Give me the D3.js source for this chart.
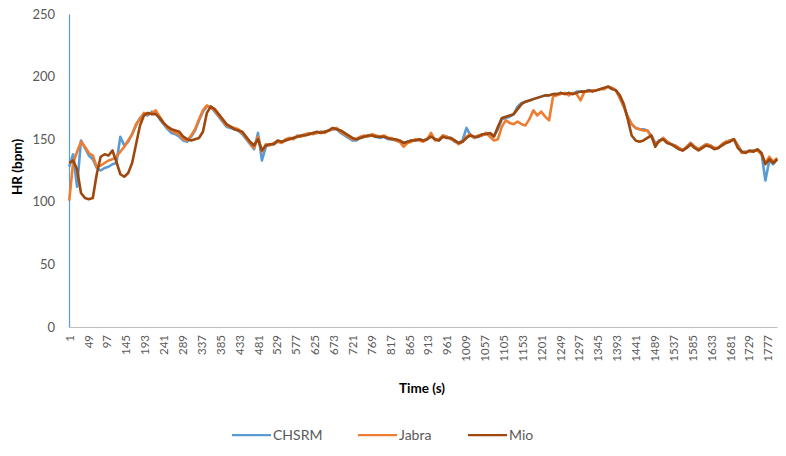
<!DOCTYPE html>
<html><head><meta charset="utf-8">
<script src="https://cdn.jsdelivr.net/npm/d3@7"></script>
<style>body{margin:0;background:#fff}svg{display:block}</style>
</head><body>
<svg id="chart" width="786" height="456"></svg>
<script>
// sampled every 10 s, starting at t = 1 s
const sampleStep = 10;
const chsrm = [
128,138,112,149,143,137,134,127,125,127,
128,130,131,152,145,148,154,161,167,170,
169,172,171,166,162,158,155,154,152,149,
148,152,157,165,172,176,176,172,168,164,
160,159,158,157,154,150,146,142,155,133,
144,146,146,148,148,149,151,151,152,153,
154,154,155,155,156,156,157,158,158,155,
153,151,149,149,151,152,153,153,152,151,
152,150,150,149,148,147,148,149,149,150,
149,150,153,150,149,153,152,151,148,147,
149,159,153,151,152,153,155,154,153,158,
166,167,168,170,176,179,180,181,182,183,
184,185,185,186,186,187,186,187,186,188,
188,188,189,189,189,190,191,192,191,189,
183,176,168,162,159,158,158,157,153,147,
148,151,148,146,145,143,141,144,147,144,
142,144,146,145,143,143,146,148,149,150,
145,140,140,140,141,141,139,117,133,130,134];
const jabra = [
101,131,140,148,144,139,137,128,129,131,
133,134,136,140,144,149,154,162,166,171,
170,171,173,168,163,159,157,155,154,150,
149,153,158,166,173,177,175,173,169,165,
161,160,159,158,155,151,147,143,152,140,
146,145,147,148,147,150,151,150,153,152,
154,155,154,155,156,155,157,158,159,156,
154,152,150,150,152,153,152,154,153,152,
153,151,151,149,148,144,147,148,150,149,
148,150,155,149,150,153,152,150,149,146,
148,152,154,151,153,153,155,152,149,150,
160,165,163,162,164,162,161,166,173,169,
172,168,165,184,185,186,187,185,187,186,
181,188,188,189,189,190,190,192,191,189,
183,176,168,162,159,158,157,157,152,146,
148,151,148,146,145,143,141,144,147,144,
142,144,146,145,143,143,146,148,149,150,
145,139,140,140,141,141,138,131,136,132,135];
const mio = [
131,133,126,107,103,102,103,122,136,138,
137,141,132,122,120,123,131,146,161,169,
171,170,170,167,163,160,158,157,156,152,
150,149,150,151,156,171,176,174,170,166,
162,160,158,157,156,152,148,145,150,141,
145,146,146,149,148,149,150,151,152,153,
153,154,155,156,155,156,157,159,158,157,
155,153,151,150,151,152,153,153,152,152,
152,151,150,150,149,147,148,149,149,150,
149,150,152,150,149,152,151,151,149,147,
148,151,153,152,152,154,154,155,152,160,
167,168,169,170,174,178,180,181,182,183,
184,185,185,186,186,187,186,187,186,187,
188,188,189,188,189,190,191,192,190,189,
185,178,166,153,149,148,149,151,153,144,
149,150,147,146,144,142,141,143,146,143,
141,143,145,144,142,143,145,147,148,150,
143,140,139,141,140,142,139,130,134,131,134];
const seriesNames = ["CHSRM", "Jabra", "Mio"];
const seriesColors = ["#5b9bd5", "#ed7d31", "#9e480e"];
const xTickLabels = [1,49,97,145,193,241,289,337,385,433,481,529,577,625,673,721,769,817,865,913,961,1009,1057,1105,1153,1201,1249,1297,1345,1393,1441,1489,1537,1585,1633,1681,1729,1777];
const yTicks = [0,50,100,150,200,250];

const svg = d3.select("#chart");
const font = "Lato, 'Open Sans', sans-serif";
const x = d3.scaleLinear().domain([0.5, 1800.5]).range([69, 777]);
const y = d3.scaleLinear().domain([0, 250]).range([327, 14]);

const series = [chsrm, jabra, mio].map((vals, k) => ({
  name: seriesNames[k], color: seriesColors[k],
  points: vals.map((v, i) => ({t: 1 + i * sampleStep, v}))
}));

// y axis
const yAxis = svg.append("g").attr("transform", "translate(69,0)")
  .call(d3.axisLeft(y).tickValues(yTicks).tickSize(0).tickPadding(14));
yAxis.select(".domain").attr("stroke", "#5b9bd5").attr("stroke-width", 1.2);
yAxis.selectAll("text").attr("font-family", font).attr("font-size", 13).attr("fill", "#595959");

// x axis
const xAxis = svg.append("g").attr("transform", "translate(0,327)")
  .call(d3.axisBottom(x).tickValues(xTickLabels).tickSize(0).tickFormat(d3.format("d")));
xAxis.select(".domain").attr("stroke", "#bfbfbf").attr("stroke-width", 1);
xAxis.selectAll("text")
  .attr("font-family", font).attr("font-size", 11.5).attr("fill", "#595959")
  .attr("text-anchor", "end").attr("dy", "0.35em")
  .attr("transform", "rotate(-90)")
  .attr("x", -8).attr("y", 0);

// lines
const line = d3.line().x(d => x(d.t)).y(d => y(d.v)).curve(d3.curveLinear);
svg.append("g").selectAll("path").data(series).join("path")
  .attr("d", d => line(d.points))
  .attr("fill", "none").attr("stroke", d => d.color)
  .attr("stroke-width", 2.6).attr("stroke-linejoin", "round");

// titles
svg.append("text").attr("transform", "translate(22,167) rotate(-90)")
  .attr("text-anchor", "middle").attr("font-family", font).attr("font-weight", "bold")
  .attr("font-size", 13.5).attr("fill", "#000").text("HR (bpm)");
svg.append("text").attr("x", 422).attr("y", 393)
  .attr("text-anchor", "middle").attr("font-family", font).attr("font-weight", "bold")
  .attr("font-size", 13.5).attr("fill", "#000").text("Time (s)");

// legend
const legendX = [232, 358, 468];
const lg = svg.append("g").selectAll("g").data(series).join("g")
  .attr("transform", (d, i) => `translate(${legendX[i]},435)`);
lg.append("line").attr("x1", 0).attr("x2", 39).attr("y1", 0).attr("y2", 0)
  .attr("stroke", d => d.color).attr("stroke-width", 2.25);
lg.append("text").attr("x", 41).attr("y", 0).attr("dy", "0.35em")
  .attr("font-family", font).attr("font-size", 14).attr("fill", "#595959")
  .text(d => d.name);
</script>
</body></html>
